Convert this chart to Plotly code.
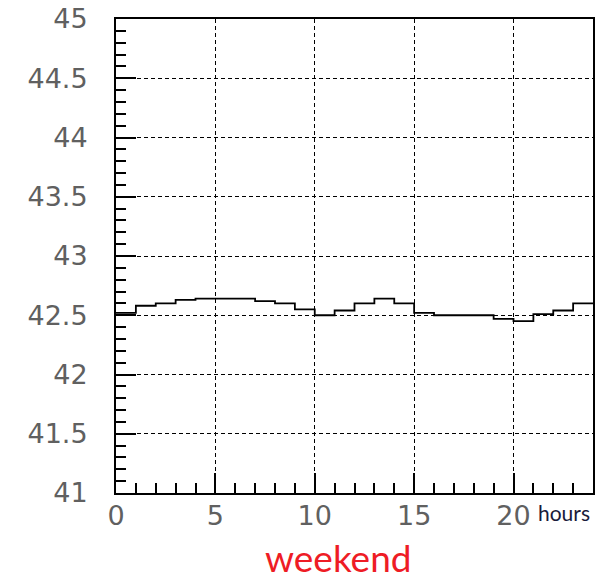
import plotly.graph_objects as go

# Hourly average over the weekend (one bin per hour)
hours = list(range(24))
values = [42.52, 42.58, 42.60, 42.63, 42.64, 42.64, 42.64, 42.62, 42.60, 42.55,
          42.50, 42.54, 42.60, 42.64, 42.60, 42.52, 42.50, 42.50, 42.50, 42.47,
          42.45, 42.51, 42.54, 42.60]

x_ticks = [0, 5, 10, 15, 20]
y_ticks = [41, 41.5, 42, 42.5, 43, 43.5, 44, 44.5, 45]
y_tick_text = ["41", "41.5", "42", "42.5", "43", "43.5", "44", "44.5", "45"]

# histogram outline: bin edges, last bin value repeated to close the final step
edges = hours + [hours[-1] + 1]
heights = values + [values[-1]]

fig = go.Figure()
fig.add_trace(go.Scatter(
    x=edges, y=heights, mode="lines", line_shape="hv",
    line=dict(color="black", width=1.8), hoverinfo="skip", showlegend=False,
))

grid = dict(showgrid=True, gridcolor="black", gridwidth=1, griddash="4px,3px")
tick_font = dict(family="DejaVu Sans", size=27, color="#606060")

fig.update_xaxes(
    range=[0, 24], tickmode="array", tickvals=x_ticks, ticktext=[str(v) for v in x_ticks],
    ticks="inside", ticklen=20, tickwidth=1.5, tickcolor="black",
    minor=dict(dtick=1, ticks="inside", ticklen=10, tickwidth=1.5, tickcolor="black", showgrid=False),
    showline=True, linecolor="black", linewidth=2, mirror=True,
    tickfont=tick_font, ticklabelstandoff=-2, zeroline=False, automargin=False, **grid,
)
fig.update_yaxes(
    range=[41, 45], tickmode="array", tickvals=y_ticks, ticktext=y_tick_text,
    ticks="inside", ticklen=20, tickwidth=1.5, tickcolor="black",
    minor=dict(dtick=0.1, tick0=41, ticks="inside", ticklen=10, tickwidth=1.5, tickcolor="black", showgrid=False),
    showline=True, linecolor="black", linewidth=2, mirror=True,
    tickfont=tick_font, ticklabelstandoff=21, zeroline=False, automargin=False, **grid,
)

fig.add_annotation(text="hours", xref="paper", yref="paper", x=0.939, y=-0.042,
                   xanchor="center", yanchor="middle", showarrow=False,
                   font=dict(family="Lato", size=21, color="#1a1a3a"))
fig.add_annotation(text="weekend", xref="paper", yref="paper", x=0.4675, y=-0.137,
                   xanchor="center", yanchor="middle", showarrow=False,
                   font=dict(family="Lato", size=37, color="#ee1c25"))

fig.update_layout(
    width=612, height=582,
    margin=dict(l=116, r=19, t=19, b=89),
    paper_bgcolor="white", plot_bgcolor="white",
)

fig.write_html("out.html")
